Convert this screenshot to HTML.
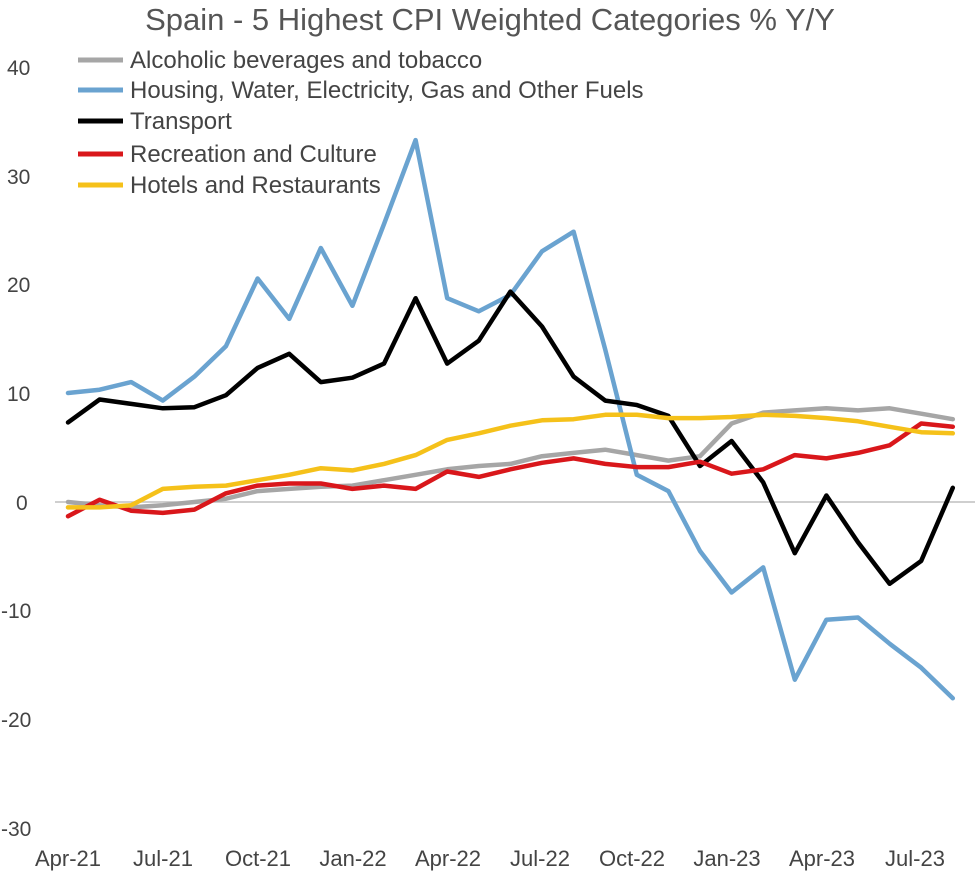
<!DOCTYPE html>
<html><head><meta charset="utf-8">
<style>
html,body{margin:0;padding:0;background:#fff;}
svg{display:block;font-family:"Liberation Sans",Arial,sans-serif;}
</style></head>
<body>
<svg id="c" width="980" height="877" viewBox="0 0 980 877" xmlns="http://www.w3.org/2000/svg">
<rect width="980" height="877" fill="#fff"/>
<text x="490" y="30" text-anchor="middle" font-size="31" fill="#555">Spain - 5 Highest CPI Weighted Categories % Y/Y</text>
<g font-size="21" fill="#444" text-anchor="start">
<text x="7" y="75">40</text>
<text x="7" y="184">30</text>
<text x="7" y="292">20</text>
<text x="7" y="401">10</text>
<text x="16" y="510">0</text>
<text x="1" y="618">-10</text>
<text x="1" y="727">-20</text>
<text x="1" y="836">-30</text>
</g>
<line x1="55" y1="502" x2="975" y2="502" stroke="#bfbfbf" stroke-width="1.5"/>
<g font-size="22" fill="#444" text-anchor="middle">
<text x="68" y="866">Apr-21</text>
<text x="163" y="866">Jul-21</text>
<text x="258" y="866">Oct-21</text>
<text x="353" y="866">Jan-22</text>
<text x="448" y="866">Apr-22</text>
<text x="540" y="866">Jul-22</text>
<text x="632" y="866">Oct-22</text>
<text x="727" y="866">Jan-23</text>
<text x="822" y="866">Apr-23</text>
<text x="915" y="866">Jul-23</text>
</g>
<g id="series" fill="none" stroke-width="4.5" stroke-linejoin="round" stroke-linecap="round"></g>
<g font-size="24" fill="#444">
<line x1="78" y1="60" x2="123" y2="60" stroke="#a6a6a6" stroke-width="5"/><text x="130" y="68">Alcoholic beverages and tobacco</text>
<line x1="78" y1="90" x2="123" y2="90" stroke="#6aa3d0" stroke-width="5"/><text x="130" y="98">Housing, Water, Electricity, Gas and Other Fuels</text>
<line x1="78" y1="121" x2="123" y2="121" stroke="#000" stroke-width="5"/><text x="130" y="129">Transport</text>
<line x1="78" y1="154" x2="123" y2="154" stroke="#d9171b" stroke-width="5"/><text x="130" y="162">Recreation and Culture</text>
<line x1="78" y1="185" x2="123" y2="185" stroke="#f5c11a" stroke-width="5"/><text x="130" y="193">Hotels and Restaurants</text>
</g>
</svg>
<script>
var data=[
["#a6a6a6",[0,-0.3,-0.5,-0.3,0,0.3,1,1.2,1.4,1.5,2,2.5,3,3.3,3.5,4.2,4.5,4.8,4.3,3.8,4.2,7.2,8.2,8.4,8.6,8.4,8.6,8.1,7.6]],
["#6aa3d0",[10,10.3,11,9.3,11.5,14.3,20.5,16.8,23.3,18,25.5,33.2,18.7,17.5,19,23,24.8,14,2.5,1,-4.5,-8.3,-6,-16.3,-10.8,-10.6,-13,-15.2,-18]],
["#000000",[7.3,9.4,9,8.6,8.7,9.8,12.3,13.6,11,11.4,12.7,18.7,12.7,14.8,19.3,16.1,11.5,9.3,8.9,7.9,3.3,5.6,1.8,-4.7,0.6,-3.7,-7.5,-5.4,1.3]],
["#d9171b",[-1.3,0.2,-0.8,-1,-0.7,0.8,1.5,1.7,1.7,1.2,1.5,1.2,2.8,2.3,3,3.6,4,3.5,3.2,3.2,3.7,2.6,3,4.3,4,4.5,5.2,7.2,6.9]],
["#f5c11a",[-0.5,-0.5,-0.3,1.2,1.4,1.5,2,2.5,3.1,2.9,3.5,4.3,5.7,6.3,7,7.5,7.6,8,8,7.7,7.7,7.8,8,7.9,7.7,7.4,6.9,6.4,6.3]]
];
var g=document.getElementById("series"),ns="http://www.w3.org/2000/svg";
data.forEach(function(s){
 var p=s[1].map(function(v,i){return (68+i*31.6).toFixed(1)+","+(502-v*10.9).toFixed(1);}).join(" ");
 var e=document.createElementNS(ns,"polyline");e.setAttribute("points",p);e.setAttribute("stroke",s[0]);g.appendChild(e);
});
</script>
</body></html>
